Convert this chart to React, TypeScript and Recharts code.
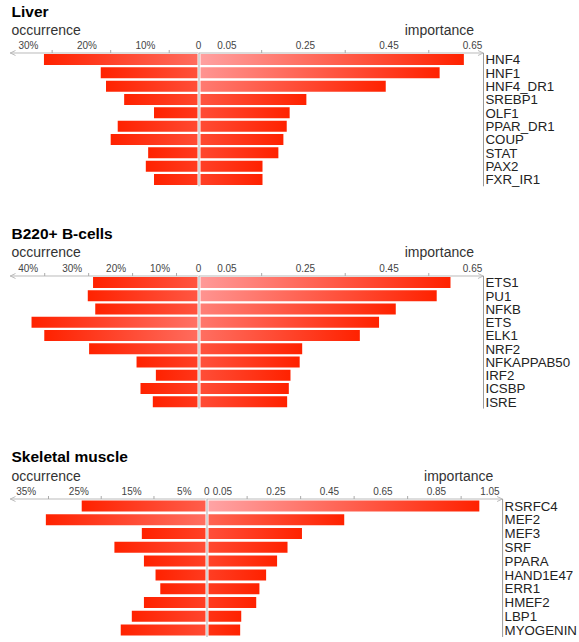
import React from 'react';
import { BarChart, Bar, XAxis, YAxis, Cell, ReferenceLine } from 'recharts';

// ---------- data ----------
const liverFactors = ['HNF4', 'HNF1', 'HNF4_DR1', 'SREBP1', 'OLF1', 'PPAR_DR1', 'COUP', 'STAT', 'PAX2', 'FXR_IR1'];
const liverOccurrence = [26.4, 16.7, 15.8, 12.7, 7.6, 13.8, 15.0, 8.6, 9.0, 7.6];
const liverImportance = [0.634, 0.576, 0.447, 0.257, 0.217, 0.21, 0.202, 0.19, 0.152, 0.152];

const bcellFactors = ['ETS1', 'PU1', 'NFKB', 'ETS', 'ELK1', 'NRF2', 'NFKAPPAB50', 'IRF2', 'ICSBP', 'ISRE'];
const bcellOccurrence = [24.0, 25.2, 23.5, 38.0, 35.1, 24.9, 14.1, 9.7, 13.2, 10.4];
const bcellImportance = [0.602, 0.569, 0.471, 0.431, 0.385, 0.247, 0.241, 0.219, 0.215, 0.211];

const muscleFactors = ['RSRFC4', 'MEF2', 'MEF3', 'SRF', 'PPARA', 'HAND1E47', 'ERR1', 'HMEF2', 'LBP1', 'MYOGENIN'];
const muscleOccurrence = [23.7, 30.5, 12.3, 17.5, 11.9, 9.7, 8.8, 11.9, 14.2, 16.3];
const muscleImportance = [1.018, 0.513, 0.355, 0.301, 0.262, 0.221, 0.196, 0.184, 0.128, 0.124];

const liverOccLabels = [0, 10, 20, 30];
const liverOccMarks = [5, 15, 25];
const bcellOccLabels = [0, 10, 20, 30, 40];
const bcellOccMarks = [5, 15, 25, 35];
const muscleOccLabels = [0, 5, 15, 25, 35];
const muscleOccMarks = [10, 20, 30];

const impLabelsShort = [0.05, 0.25, 0.45, 0.65];
const impMarksShort = [0.15, 0.35, 0.55];
const impLabelsLong = [0.05, 0.25, 0.45, 0.65, 0.85, 1.05];
const impMarksLong = [0.15, 0.35, 0.55, 0.75, 0.95];

// ---------- layout / style ----------
const FONT = '"Liberation Sans", Arial, sans-serif';
const W = 579;
const AX_H = 20;

type Panel = {
  id: string; title: string; factors: string[]; occ: number[]; imp: number[];
  occLabels: number[]; occMarks: number[]; impLabels: number[]; impMarks: number[];
  titleY: number; subY: number; plotTop: number; plotH: number; zero: number; right: number;
  occMax: number; impMax: number; occDx: number; impDx: number; firstImpDx: number; gap: number;
};

const panels: Panel[] = [
  {
    id: 'liver', title: 'Liver', factors: liverFactors, occ: liverOccurrence, imp: liverImportance,
    occLabels: liverOccLabels, occMarks: liverOccMarks, impLabels: impLabelsShort, impMarks: impMarksShort,
    titleY: 17.3, subY: 35, plotTop: 53, plotH: 133.3, zero: 198.5, right: 483,
    occMax: 32.2, impMax: 0.681, occDx: 5.5, impDx: 2, firstImpDx: 7, gap: 1,
  },
  {
    id: 'bcell', title: 'B220+ B-cells', factors: bcellFactors, occ: bcellOccurrence, imp: bcellImportance,
    occLabels: bcellOccLabels, occMarks: bcellOccMarks, impLabels: impLabelsShort, impMarks: impMarksShort,
    titleY: 239.3, subY: 257, plotTop: 275.5, plotH: 132.6, zero: 198.5, right: 483,
    occMax: 42.9, impMax: 0.681, occDx: 5.5, impDx: 2, firstImpDx: 7, gap: 1,
  },
  {
    id: 'muscle', title: 'Skeletal muscle', factors: muscleFactors, occ: muscleOccurrence, imp: muscleImportance,
    occLabels: muscleOccLabels, occMarks: muscleOccMarks, impLabels: impLabelsLong, impMarks: impMarksLong,
    titleY: 462, subY: 480.5, plotTop: 498.7, plotH: 138, zero: 206.7, right: 502.3,
    occMax: 37.3, impMax: 1.105, occDx: 4, impDx: 2, firstImpDx: 2, gap: 1.4,
  },
];

const RED = [255, 34, 0];
const LIGHT = [255, 160, 160];
function lightAt(px: number) {
  const s = Math.min(1.07, px / 263);
  const c = RED.map((r, k) => Math.round(Math.min(255, r + (LIGHT[k] - r) * s)));
  return `rgb(${c[0]},${c[1]},${c[2]})`;
}
const redCss = `rgb(${RED[0]},${RED[1]},${RED[2]})`;

const makeTick = (labels: number[], marks: number[], dx: number, firstDx: number, fmt: (v: number) => string) =>
  (props: any) => {
    const { x, y, payload } = props;
    const v = payload.value as number;
    const isLabel = labels.some((l) => Math.abs(l - v) < 1e-9);
    if (!isLabel) {
      return <line x1={x} x2={x} y1={y + 1} y2={y + 4} stroke="#aaa" strokeWidth={1} />;
    }
    const firstPos = labels.find((l) => l > 0);
    const shift = v === 0 ? 0 : v === firstPos ? firstDx : dx;
    return (
      <text x={x + shift} y={y} textAnchor="middle" fontSize={10} fill="#444" fontFamily={FONT}>
        {fmt(v)}
      </text>
    );
  };

function PanelCharts({ p }: { p: Panel }) {
  const rows = p.factors.map((name, i) => ({ name, occ: p.occ[i], imp: p.imp[i] }));
  const occTicks = [...p.occLabels, ...p.occMarks].sort((a, b) => a - b);
  const impTicks = [...p.impLabels, ...p.impMarks].sort((a, b) => a - b);
  const h = AX_H + p.plotH + 2;
  const leftW = p.zero + 5;
  const rightW = W - (p.zero - 5);
  return (
    <>
      <div style={{ position: 'absolute', left: 0, top: p.plotTop - AX_H }}>
        <BarChart width={leftW} height={h} data={rows} layout="vertical"
          margin={{ top: 0, right: 5, left: 10, bottom: 2 }} barCategoryGap={p.gap}>
          <XAxis type="number" orientation="top" reversed domain={[0, p.occMax]} allowDataOverflow
            ticks={occTicks} interval={0} tickLine={false} tickSize={3} tickMargin={1} height={AX_H}
            axisLine={{ stroke: '#bbb', markerStart: 'url(#arrowL)' } as any}
            tick={makeTick(p.occLabels, p.occMarks, p.occDx, p.occDx, (v) => (v === 0 ? '0' : `${v}%`))} />
          <YAxis type="category" dataKey="name" hide />
          <Bar dataKey="occ" isAnimationActive={false}>
            {rows.map((r, i) => <Cell key={i} fill={`url(#g-${p.id}-o-${i})`} />)}
          </Bar>
        </BarChart>
      </div>
      <div style={{ position: 'absolute', left: p.zero - 5, top: p.plotTop - AX_H }}>
        <BarChart width={rightW} height={h} data={rows} layout="vertical"
          margin={{ top: 0, right: 0, left: 5, bottom: 2 }} barCategoryGap={p.gap}>
          <XAxis type="number" orientation="top" domain={[0, p.impMax]} allowDataOverflow
            ticks={impTicks} interval={0} tickLine={false} tickSize={3} tickMargin={1} height={AX_H}
            axisLine={{ stroke: '#bbb', markerEnd: 'url(#arrowR)' } as any}
            tick={makeTick(p.impLabels, p.impMarks, p.impDx, p.firstImpDx, (v) => v.toFixed(2))} />
          <YAxis type="category" dataKey="name" orientation="right" width={W - p.right}
            axisLine={{ stroke: '#999' }} tickLine={false} tickSize={0} tickMargin={2} interval={0}
            tick={{ fontSize: 13.3, fill: '#222', fontFamily: FONT }} />
          <Bar dataKey="imp" isAnimationActive={false}>
            {rows.map((r, i) => <Cell key={i} fill={`url(#g-${p.id}-i-${i})`} />)}
          </Bar>
          <ReferenceLine x={0} stroke="#fff" strokeWidth={3} ifOverflow="visible" />
          <ReferenceLine x={0} stroke="#aaa" strokeWidth={1} ifOverflow="visible" />
        </BarChart>
      </div>
    </>
  );
}

export default function App() {
  return (
    <div style={{ position: 'absolute', left: 0, top: 0, width: W, height: 642, background: '#fff', fontFamily: FONT }}>
      <svg width={W} height={642} style={{ position: 'absolute', left: 0, top: 0 }}>
        <defs>
          <marker id="arrowL" markerUnits="userSpaceOnUse" markerWidth={7} markerHeight={6}
            viewBox="0 0 7 6" refX={0.5} refY={3} orient="0">
            <path d="M6,0.5 L0.8,3 L6,5.5" fill="none" stroke="#bbb" strokeWidth={1} />
          </marker>
          <marker id="arrowR" markerUnits="userSpaceOnUse" markerWidth={7} markerHeight={6}
            viewBox="0 0 7 6" refX={6.5} refY={3} orient="0">
            <path d="M1,0.5 L6.2,3 L1,5.5" fill="none" stroke="#bbb" strokeWidth={1} />
          </marker>
          {panels.map((p) => (
            <React.Fragment key={p.id}>
              {p.occ.map((v, i) => (
                <linearGradient key={`o${i}`} id={`g-${p.id}-o-${i}`} x1="0" y1="0" x2="1" y2="0">
                  <stop offset="0" stopColor={redCss} />
                  <stop offset="1" stopColor={lightAt((v / p.occMax) * (p.zero - 10))} />
                </linearGradient>
              ))}
              {p.imp.map((v, i) => (
                <linearGradient key={`i${i}`} id={`g-${p.id}-i-${i}`} x1="0" y1="0" x2="1" y2="0">
                  <stop offset="0" stopColor={lightAt((v / p.impMax) * (p.right - p.zero))} />
                  <stop offset="1" stopColor={redCss} />
                </linearGradient>
              ))}
            </React.Fragment>
          ))}
        </defs>
        {panels.map((p) => (
          <g key={p.id} fontFamily={FONT}>
            <text x={11.5} y={p.titleY} fontSize={15.5} fontWeight="bold" fill="#000">{p.title}</text>
            <text x={11.5} y={p.subY} fontSize={14} fill="#333">occurrence</text>
            <text x={p.right - 9} y={p.subY} fontSize={14} fill="#333" textAnchor="end">importance</text>
          </g>
        ))}
      </svg>
      {panels.map((p) => <PanelCharts key={p.id} p={p} />)}
    </div>
  );
}
